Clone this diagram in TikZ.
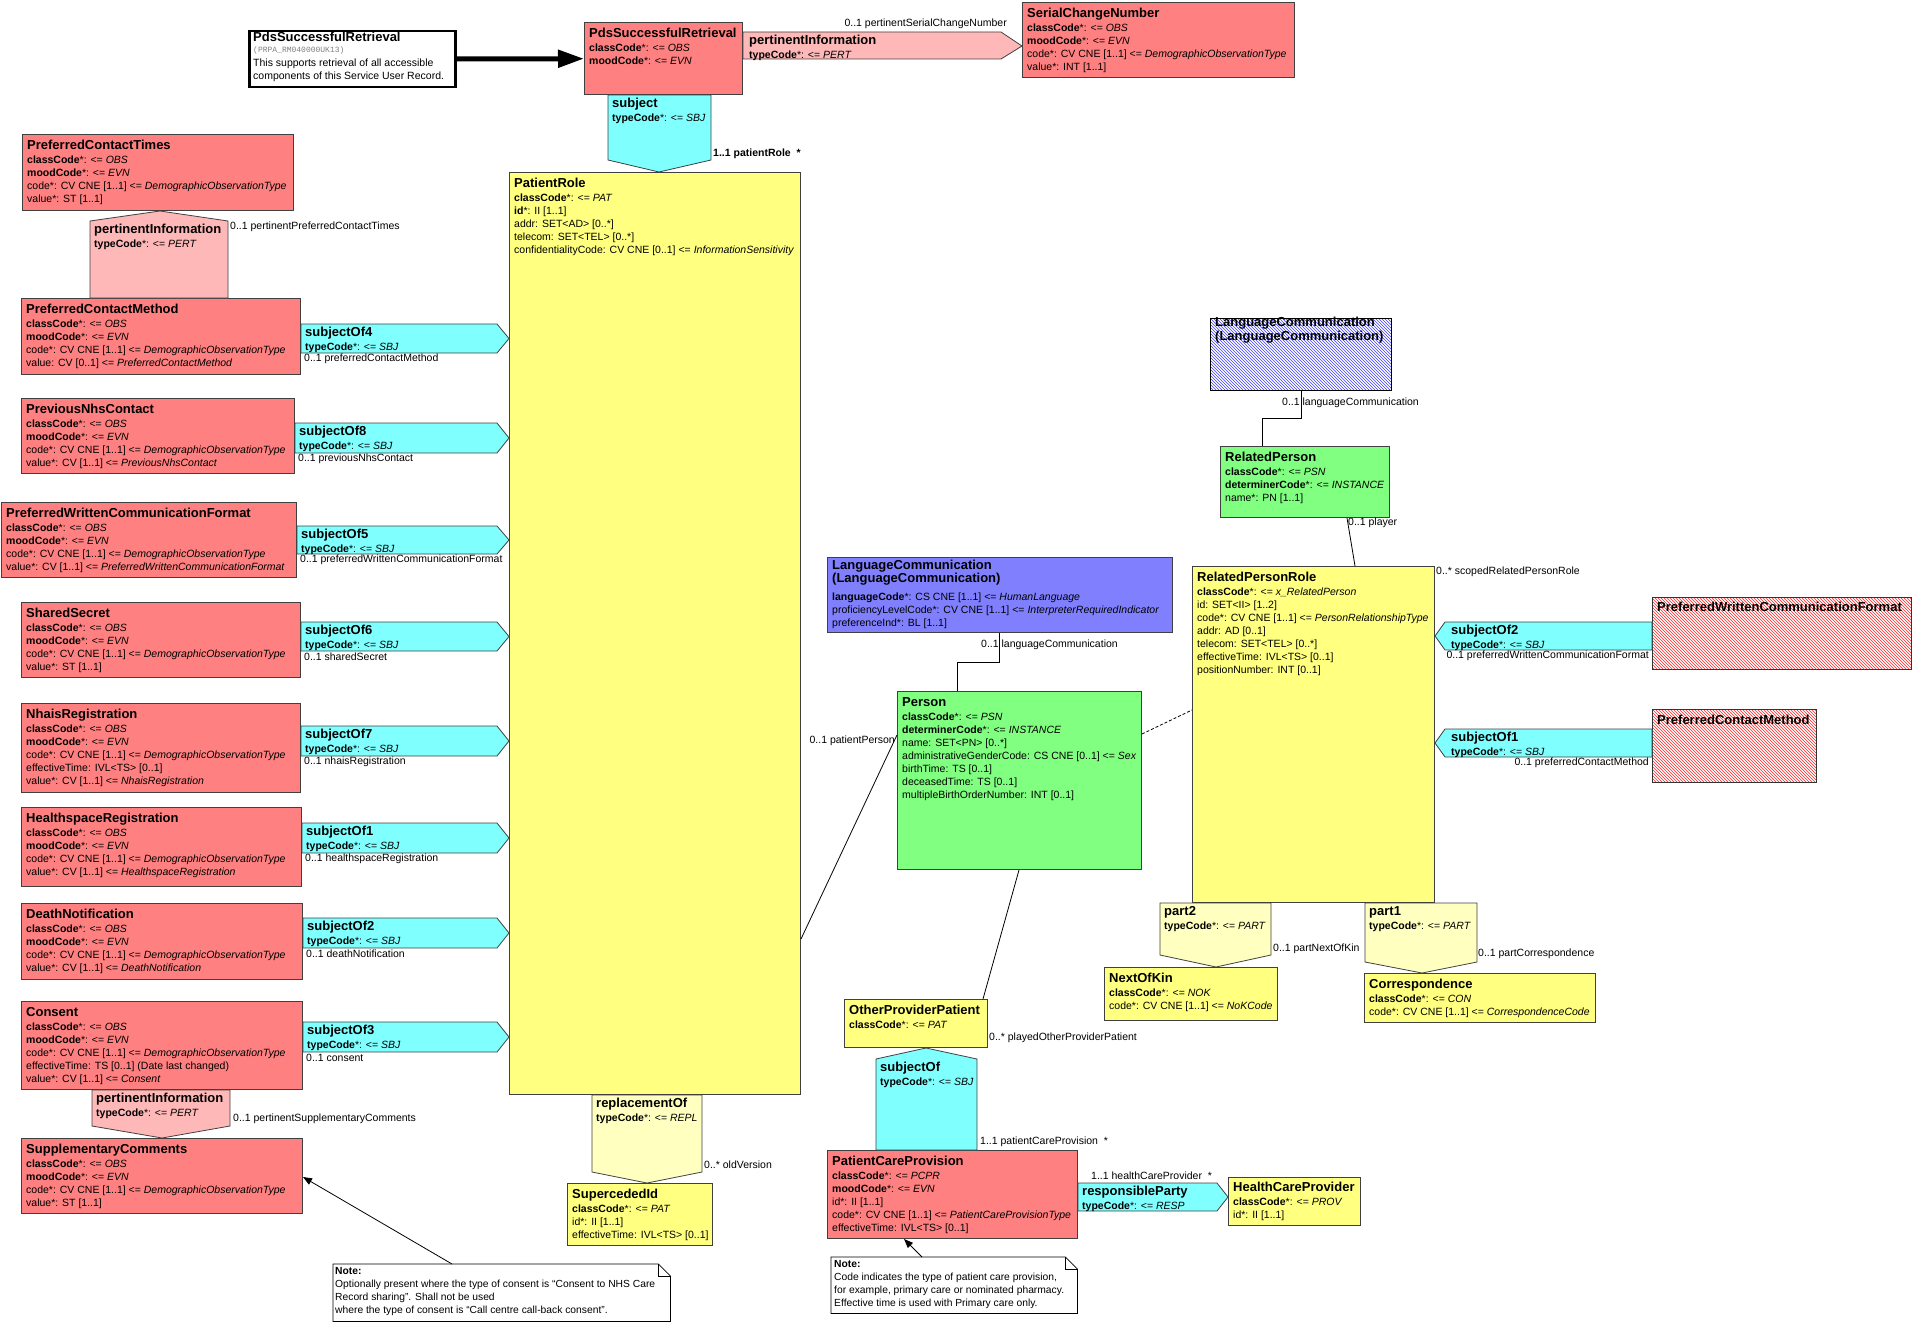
\documentclass[tikz,border=0pt]{standalone}
\usepackage{fontspec}
\setmainfont{Liberation Sans}
\setmonofont{Liberation Mono}
\usetikzlibrary{arrows.meta,patterns}
\definecolor{actred}{HTML}{FF8080}
\definecolor{pertpink}{HTML}{FFB8B8}
\definecolor{sbjcyan}{HTML}{80FFFF}
\definecolor{roleyel}{HTML}{FFFF80}
\definecolor{partyel}{HTML}{FFFFC0}
\definecolor{entgreen}{HTML}{80FF80}
\definecolor{lcblue}{HTML}{8080FF}
\definecolor{edgegrey}{HTML}{404040}
\newcommand{\clsname}[1]{{\fontsize{13}{13}\selectfont\bfseries #1}}
\newcommand{\obscodes}{\textbf{classCode}*: <= \textit{OBS}\\\textbf{moodCode}*: <= \textit{EVN}\\code*: CV CNE [1..1] <= \textit{DemographicObservationType}}
\tikzset{
  cls/.style={draw=edgegrey, line width=1pt, anchor=north west, inner sep=0pt},
  actcls/.style={cls, fill=actred},
  rolecls/.style={cls, fill=roleyel},
  entcls/.style={cls, fill=entgreen},
  lccls/.style={cls, fill=lcblue},
  hatchred/.style={cls, draw=black!80, pattern=north west lines, pattern color=red!85!white},
  hatchblue/.style={cls, draw=black, pattern=north west lines, pattern color=blue!75!white},
  ctxt/.style={anchor=north west, align=left, inner sep=0pt, xshift=5pt, yshift=-6pt, font=\fontsize{10.5}{13}\selectfont},
  asc/.style={anchor=north west, align=left, inner sep=0pt, xshift=4pt, yshift=-3pt, font=\fontsize{10.5}{14}\selectfont},
  mult/.style={inner sep=0pt, font=\fontsize{10.5}{12}\selectfont},
  sbj/.style={draw=edgegrey, line width=0.8pt, fill=sbjcyan},
  pert/.style={draw=edgegrey, line width=0.8pt, fill=pertpink},
  partarr/.style={draw=edgegrey, line width=0.8pt, fill=partyel},
  link/.style={draw=black, line width=0.8pt},
  notebox/.style={anchor=north west, inner sep=0pt},
  notetxt/.style={anchor=north west, align=left, inner sep=0pt, font=\fontsize{10.3}{13}\selectfont},
}

\begin{document}
\begin{tikzpicture}[x=1pt, y=-1pt]
\useasboundingbox (0,0) rectangle (1912,1322);

% entry point and the top act
\node[cls, draw=black, line width=2.5pt, fill=white, minimum width=206, minimum height=56] (entry) at (248,30) {};
\node[ctxt, yshift=4pt] (entry-t) at (entry.north west) {\clsname{PdsSuccessfulRetrieval}\\[-2pt]{\fontsize{8}{9}\selectfont\ttfamily\color{gray}(PRPA\_RM040000UK13)}\\[1pt]This supports retrieval of all accessible\\components of this Service User Record.};
\node[actcls, minimum width=158, minimum height=72] (psr) at (584,22) {};
\node[ctxt] (psr-t) at (psr.north west) {\clsname{PdsSuccessfulRetrieval}\\[1pt]\textbf{classCode}*: <= \textit{OBS}\\\textbf{moodCode}*: <= \textit{EVN}};
\draw[line width=5pt, -{Triangle[length=26pt,width=17pt]}] (entry) -- (psr);
\node[actcls, minimum width=272, minimum height=75] (scn) at (1022,2) {};
\node[ctxt] (scn-t) at (scn.north west) {\clsname{SerialChangeNumber}\\[1pt]\obscodes\\value*: INT [1..1]};

% patient role
\node[rolecls, minimum width=291, minimum height=922] (pr) at (509,172) {};
\node[ctxt] (pr-t) at (pr.north west) {\clsname{PatientRole}\\[1pt]\textbf{classCode}*: <= \textit{PAT}\\\textbf{id}*: II [1..1]\\addr: SET<AD> [0..*]\\telecom: SET<TEL> [0..*]\\confidentialityCode: CV CNE [0..1] <= \textit{InformationSensitivity}};

% left column of observations
\node[actcls, minimum width=271, minimum height=76] (pct) at (22,134) {};
\node[ctxt] (pct-t) at (pct.north west) {\clsname{PreferredContactTimes}\\[1pt]\obscodes\\value*: ST [1..1]};
\node[actcls, minimum width=279, minimum height=76] (pcm) at (21,298) {};
\node[ctxt] (pcm-t) at (pcm.north west) {\clsname{PreferredContactMethod}\\[1pt]\obscodes\\value: CV [0..1] <= \textit{PreferredContactMethod}};
\node[actcls, minimum width=273, minimum height=75] (pnc) at (21,398) {};
\node[ctxt] (pnc-t) at (pnc.north west) {\clsname{PreviousNhsContact}\\[1pt]\obscodes\\value*: CV [1..1] <= \textit{PreviousNhsContact}};
\node[actcls, minimum width=295, minimum height=75] (pwcf) at (1,502) {};
\node[ctxt] (pwcf-t) at (pwcf.north west) {\clsname{PreferredWrittenCommunicationFormat}\\[1pt]\obscodes\\value*: CV [1..1] <= \textit{PreferredWrittenCommunicationFormat}};
\node[actcls, minimum width=279, minimum height=75] (ss) at (21,602) {};
\node[ctxt] (ss-t) at (ss.north west) {\clsname{SharedSecret}\\[1pt]\obscodes\\value*: ST [1..1]};
\node[actcls, minimum width=279, minimum height=89] (nr) at (21,703) {};
\node[ctxt] (nr-t) at (nr.north west) {\clsname{NhaisRegistration}\\[1pt]\obscodes\\effectiveTime: IVL<TS> [0..1]\\value*: CV [1..1] <= \textit{NhaisRegistration}};
\node[actcls, minimum width=280, minimum height=79] (hr) at (21,807) {};
\node[ctxt] (hr-t) at (hr.north west) {\clsname{HealthspaceRegistration}\\[1pt]\obscodes\\value*: CV [1..1] <= \textit{HealthspaceRegistration}};
\node[actcls, minimum width=281, minimum height=76] (dn) at (21,903) {};
\node[ctxt] (dn-t) at (dn.north west) {\clsname{DeathNotification}\\[1pt]\obscodes\\value*: CV [1..1] <= \textit{DeathNotification}};
\node[actcls, minimum width=281, minimum height=88] (cons) at (21,1001) {};
\node[ctxt] (cons-t) at (cons.north west) {\clsname{Consent}\\[1pt]\obscodes\\effectiveTime: TS [0..1] (Date last changed)\\value*: CV [1..1] <= \textit{Consent}};
\node[actcls, minimum width=281, minimum height=75] (sc) at (21,1138) {};
\node[ctxt] (sc-t) at (sc.north west) {\clsname{SupplementaryComments}\\[1pt]\obscodes\\value*: ST [1..1]};
\node[rolecls, minimum width=145, minimum height=62] (sid) at (567,1183) {};
\node[ctxt] (sid-t) at (sid.north west) {\clsname{SupercededId}\\[1pt]\textbf{classCode}*: <= \textit{PAT}\\id*: II [1..1]\\effectiveTime: IVL<TS> [0..1]};

% person and language
\node[lccls, minimum width=345, minimum height=75] (lcb) at (827,557) {};
\node[ctxt, yshift=3pt] (lcb-t) at (lcb.north west) {\clsname{LanguageCommunication}\\\clsname{(LanguageCommunication)}\\[5pt]\textbf{languageCode}*: CS CNE [1..1] <= \textit{HumanLanguage}\\proficiencyLevelCode*: CV CNE [1..1] <= \textit{InterpreterRequiredIndicator}\\preferenceInd*: BL [1..1]};
\node[entcls, minimum width=244, minimum height=178] (pers) at (897,691) {};
\node[ctxt] (pers-t) at (pers.north west) {\clsname{Person}\\[1pt]\textbf{classCode}*: <= \textit{PSN}\\\textbf{determinerCode}*: <= \textit{INSTANCE}\\name: SET<PN> [0..*]\\administrativeGenderCode: CS CNE [0..1] <= \textit{Sex}\\birthTime: TS [0..1]\\deceasedTime: TS [0..1]\\multipleBirthOrderNumber: INT [0..1]};

% related person side
\node[hatchblue, minimum width=181, minimum height=72] (lch) at (1210,318) {};
\node[ctxt, yshift=7pt] (lch-t) at (lch.north west) {\clsname{LanguageCommunication}\\[1pt]\clsname{(LanguageCommunication)}};
\node[entcls, minimum width=169, minimum height=71] (rp) at (1220,446) {};
\node[ctxt] (rp-t) at (rp.north west) {\clsname{RelatedPerson}\\[1pt]\textbf{classCode}*: <= \textit{PSN}\\\textbf{determinerCode}*: <= \textit{INSTANCE}\\name*: PN [1..1]};
\node[rolecls, minimum width=242, minimum height=336] (rpr) at (1192,566) {};
\node[ctxt] (rpr-t) at (rpr.north west) {\clsname{RelatedPersonRole}\\[1pt]\textbf{classCode}*: <= \textit{x\_RelatedPerson}\\id: SET<II> [1..2]\\code*: CV CNE [1..1] <= \textit{PersonRelationshipType}\\addr: AD [0..1]\\telecom: SET<TEL> [0..*]\\effectiveTime: IVL<TS> [0..1]\\positionNumber: INT [0..1]};
\node[hatchred, minimum width=259, minimum height=72] (pwcfh) at (1652,597) {};
\node[ctxt, yshift=1pt] (pwcfh-t) at (pwcfh.north west) {\clsname{PreferredWrittenCommunicationFormat}};
\node[hatchred, minimum width=164, minimum height=73] (pcmh) at (1652,709) {};
\node[ctxt] (pcmh-t) at (pcmh.north west) {\clsname{PreferredContactMethod}};
\node[rolecls, minimum width=173, minimum height=53] (nok) at (1104,967) {};
\node[ctxt] (nok-t) at (nok.north west) {\clsname{NextOfKin}\\[1pt]\textbf{classCode}*: <= \textit{NOK}\\code*: CV CNE [1..1] <= \textit{NoKCode}};
\node[rolecls, minimum width=231, minimum height=49] (corr) at (1364,973) {};
\node[ctxt] (corr-t) at (corr.north west) {\clsname{Correspondence}\\[1pt]\textbf{classCode}*: <= \textit{CON}\\code*: CV CNE [1..1] <= \textit{CorrespondenceCode}};

% care provision
\node[rolecls, minimum width=143, minimum height=48] (opp) at (844,999) {};
\node[ctxt] (opp-t) at (opp.north west) {\clsname{OtherProviderPatient}\\[1pt]\textbf{classCode}*: <= \textit{PAT}};
\node[actcls, minimum width=250, minimum height=88] (pcp) at (827,1150) {};
\node[ctxt] (pcp-t) at (pcp.north west) {\clsname{PatientCareProvision}\\[1pt]\textbf{classCode}*: <= \textit{PCPR}\\\textbf{moodCode}*: <= \textit{EVN}\\id*: II [1..1]\\code*: CV CNE [1..1] <= \textit{PatientCareProvisionType}\\effectiveTime: IVL<TS> [0..1]};
\node[rolecls, minimum width=132, minimum height=48] (hcp) at (1228,1177) {};
\node[ctxt, yshift=1pt] (hcp-t) at (hcp.north west) {\clsname{HealthCareProvider}\\[1pt]\textbf{classCode}*: <= \textit{PROV}\\id*: II [1..1]};

% arrows from the top act
\draw[pert] (psr.east |- 0,32) -- (1001,32) -- (scn.west |- 0,46) -- (1001,59) -- (psr.east |- 0,59) -- cycle;
\node[asc, xshift=2pt] (pi0-l) at (psr.east |- 0,32) {\clsname{pertinentInformation}\\\textbf{typeCode}*: <= \textit{PERT}};
\node[mult, anchor=east] (pi0-m) at (1007,24) {0..1 pertinentSerialChangeNumber};
\draw[sbj] (psr.south -| 608,0) -- (608,160) -- (pr.north -| 659,0) -- (711,160) -- (psr.south -| 711,0) -- cycle;
\node[asc] (subj-l) at (psr.south -| 608,0) {\clsname{subject}\\\textbf{typeCode}*: <= \textit{SBJ}};
\node[mult, anchor=west, font=\fontsize{10.5}{12}\selectfont\bfseries] (subj-m) at (713,154) {1..1 patientRole~ *};

% left column: subject-of arrows into PatientRole
\foreach \src/\nm/\yt/\yb/\mlt in {pcm/subjectOf4/324/353/preferredContactMethod, pnc/subjectOf8/423/453/previousNhsContact, pwcf/subjectOf5/526/554/preferredWrittenCommunicationFormat, ss/subjectOf6/622/651/sharedSecret, nr/subjectOf7/726/756/nhaisRegistration, hr/subjectOf1/823/853/healthspaceRegistration, dn/subjectOf2/918/948/deathNotification, cons/subjectOf3/1022/1052/consent}{
  \pgfmathsetmacro{\ym}{(\yt+\yb)/2}
  \pgfmathsetmacro{\yl}{\yb+6}
  \draw[sbj] (\src.east |- 0,\yt) -- (497,\yt) -- (pr.west |- 0,\ym) -- (497,\yb) -- (\src.east |- 0,\yb) -- cycle;
  \node[asc] (\nm-l) at (\src.east |- 0,\yt) {\clsname{\nm}\\\textbf{typeCode}*: <= \textit{SBJ}};
  \node[mult, anchor=west, xshift=3pt] (\nm-m) at (\src.east |- 0,\yl) {0..1 \mlt};
}

% pertinent information between observations
\draw[pert] (pcm.north -| 90,0) -- (90,221) -- (pct.south -| 160,0) -- (228,221) -- (pcm.north -| 228,0) -- cycle;
\node[asc] (pi1-l) at (90,221) {\clsname{pertinentInformation}\\\textbf{typeCode}*: <= \textit{PERT}};
\node[mult, anchor=west] (pi1-m) at (230,227) {0..1 pertinentPreferredContactTimes};
\draw[pert] (cons.south -| 92,0) -- (92,1126) -- (sc.north -| 162,0) -- (230,1126) -- (cons.south -| 230,0) -- cycle;
\node[asc] (pi2-l) at (cons.south -| 92,0) {\clsname{pertinentInformation}\\\textbf{typeCode}*: <= \textit{PERT}};
\node[mult, anchor=west] (pi2-m) at (233,1119) {0..1 pertinentSupplementaryComments};

% replacement
\draw[partarr] (pr.south -| 592,0) -- (592,1172) -- (sid.north -| 647,0) -- (702,1172) -- (pr.south -| 702,0) -- cycle;
\node[asc] (repl-l) at (pr.south -| 592,0) {\clsname{replacementOf}\\\textbf{typeCode}*: <= \textit{REPL}};
\node[mult, anchor=west] (repl-m) at (704,1165) {0..* oldVersion};

% person links
\draw[link] (lcb.south -| 999,0) |- (957,662) -- (pers.north -| 957,0);
\node[mult, anchor=west] (lcb-m) at (981,645) {0..1 languageCommunication};
\draw[link] (pr.east |- 0,939) -- (pers.west |- 0,735);
\node[mult, anchor=east] (pers-m) at (895,741) {0..1 patientPerson};
\draw[link] (pers.south -| 1019,0) -- (opp.north -| 983,0);
\node[mult, anchor=west] (opp-m) at (989,1038) {0..* playedOtherProviderPatient};
\draw[link, dash pattern=on 3pt off 2pt] (pers.east |- 0,734) -- (rpr.west |- 0,710);

% related person links
\draw[link] (lch.south -| 1301,0) |- (1262,418) -- (rp.north -| 1262,0);
\node[mult, anchor=west] (lch-m) at (1282,403) {0..1 languageCommunication};
\draw[link] (rp.south -| 1347,0) -- (rpr.north -| 1355,0);
\node[mult, anchor=west] (rp-m) at (1348,523) {0..1 player};
\node[mult, anchor=west] (rpr-m) at (1436,572) {0..* scopedRelatedPersonRole};

% arrows into RelatedPersonRole
\draw[sbj] (pwcfh.west |- 0,622) -- (1445,622) -- (rpr.east |- 0,636) -- (1445,650) -- (pwcfh.west |- 0,650) -- cycle;
\node[asc] (rso2-l) at (1447,622) {\clsname{subjectOf2}\\\textbf{typeCode}*: <= \textit{SBJ}};
\node[mult, anchor=east] (rso2-m) at (1649,656) {0..1 preferredWrittenCommunicationFormat};
\draw[sbj] (pcmh.west |- 0,729) -- (1445,729) -- (rpr.east |- 0,743) -- (1445,757) -- (pcmh.west |- 0,757) -- cycle;
\node[asc] (rso1-l) at (1447,729) {\clsname{subjectOf1}\\\textbf{typeCode}*: <= \textit{SBJ}};
\node[mult, anchor=east] (rso1-m) at (1649,763) {0..1 preferredContactMethod};
\draw[partarr] (rpr.south -| 1160,0) -- (1160,955) -- (nok.north -| 1216,0) -- (1271,955) -- (rpr.south -| 1271,0) -- cycle;
\node[asc] (part2-l) at (rpr.south -| 1160,0) {\clsname{part2}\\\textbf{typeCode}*: <= \textit{PART}};
\node[mult, anchor=west] (part2-m) at (1273,949) {0..1 partNextOfKin};
\draw[partarr] (rpr.south -| 1365,0) -- (1365,962) -- (corr.north -| 1422,0) -- (1477,962) -- (rpr.south -| 1477,0) -- cycle;
\node[asc] (part1-l) at (rpr.south -| 1365,0) {\clsname{part1}\\\textbf{typeCode}*: <= \textit{PART}};
\node[mult, anchor=west] (part1-m) at (1478,954) {0..1 partCorrespondence};

% care provision arrows
\draw[sbj] (pcp.north -| 876,0) -- (876,1059) -- (opp.south -| 926,0) -- (977,1059) -- (pcp.north -| 977,0) -- cycle;
\node[asc] (sof-l) at (876,1059) {\clsname{subjectOf}\\\textbf{typeCode}*: <= \textit{SBJ}};
\node[mult, anchor=west] (sof-m) at (980,1142) {1..1 patientCareProvision~ *};
\draw[sbj] (pcp.east |- 0,1183) -- (1217,1183) -- (hcp.west |- 0,1197) -- (1217,1211) -- (pcp.east |- 0,1211) -- cycle;
\node[asc] (resp-l) at (pcp.east |- 0,1183) {\clsname{responsibleParty}\\\textbf{typeCode}*: <= \textit{RESP}};
\node[mult, anchor=west] (resp-m) at (1091,1176) {1..1 healthCareProvider~ *};

% notes
\node[notebox, minimum width=337, minimum height=57] (note1) at (333,1264) {};
\draw[link, fill=white] (note1.north west) -- ([xshift=-12pt]note1.north east) -- ([yshift=-12pt]note1.north east) -- (note1.south east) -- (note1.south west) -- cycle;
\draw[link] ([xshift=-12pt]note1.north east) -- ([xshift=-12pt,yshift=-12pt]note1.north east) -- ([yshift=-12pt]note1.north east);
\node[notetxt, xshift=2pt, yshift=-3.5pt] (note1-t) at (note1.north west) {\textbf{Note:}\\Optionally present where the type of consent is “Consent to NHS Care\\Record sharing”. Shall not be used\\where the type of consent is “Call centre call-back consent”.};
\draw[link, -{Triangle[length=9pt,width=7pt]}] (note1.north -| 452,0) -- (sc.east |- 0,1177);
\node[notebox, minimum width=246, minimum height=56] (note2) at (831,1257) {};
\draw[link, fill=white] (note2.north west) -- ([xshift=-12pt]note2.north east) -- ([yshift=-12pt]note2.north east) -- (note2.south east) -- (note2.south west) -- cycle;
\draw[link] ([xshift=-12pt]note2.north east) -- ([xshift=-12pt,yshift=-12pt]note2.north east) -- ([yshift=-12pt]note2.north east);
\node[notetxt, xshift=3pt, yshift=-3.5pt] (note2-t) at (note2.north west) {\textbf{Note:}\\Code indicates the type of patient care provision,\\for example, primary care or nominated pharmacy.\\Effective time is used with Primary care only.};
\draw[link, -{Triangle[length=9pt,width=7pt]}] (note2.north -| 922,0) -- (pcp.south -| 904,0);
\end{tikzpicture}
\end{document}
